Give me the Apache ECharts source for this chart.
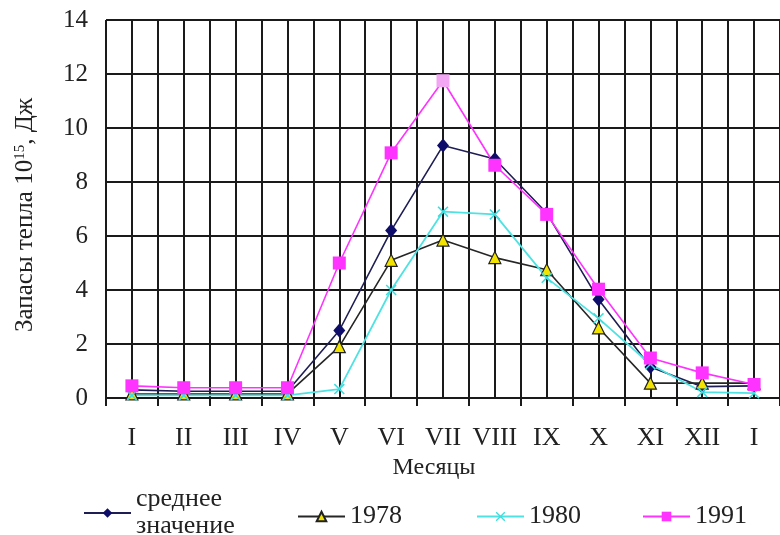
<!DOCTYPE html>
<html>
<head>
<meta charset="utf-8">
<script src="https://cdn.jsdelivr.net/npm/echarts@6/dist/echarts.min.js"></script>
<style>
  html, body { margin: 0; padding: 0; background: #fff; }
  #chart { width: 780px; height: 535px; }
</style>
</head>
<body>
<div id="chart"></div>
<script>
// месяцы (последний - январь следующего года)
var months = ['I', 'II', 'III', 'IV', 'V', 'VI', 'VII', 'VIII', 'IX', 'X', 'XI', 'XII', 'I'];
var yTicks = [0, 2, 4, 6, 8, 10, 12, 14];

var seriesNames = ['среднее\nзначение', '1978', '1980', '1991'];
var avgValues = [0.3, 0.25, 0.25, 0.25, 2.5, 6.2, 9.35, 8.85, 6.85, 3.65, 1.15, 0.42, 0.45];
var v1978 = [0.15, 0.15, 0.15, 0.15, 1.9, 5.1, 5.85, 5.2, 4.75, 2.6, 0.55, 0.55, 0.55];
var v1980 = [0.1, 0.1, 0.1, 0.1, 0.33, 4.0, 6.9, 6.8, 4.45, 2.95, 1.25, 0.22, 0.18];
var v1991 = [0.45, 0.38, 0.38, 0.38, 5.0, 9.08, 11.75, 8.62, 6.8, 4.03, 1.48, 0.93, 0.5];

var serif = "'Liberation Serif', 'Times New Roman', serif";
var gridColor = '#1a1a1a';

var myChart = echarts.init(document.getElementById('chart'));

var crossPath = 'path://M0,1 L1,0 L5,4 L9,0 L10,1 L6,5 L10,9 L9,10 L5,6 L1,10 L0,9 L4,5 Z';

// пик 1991 выделен светлым
var data1991 = v1991.map(function (v, i) {
    if (i === 6) return { value: v, itemStyle: { color: '#f3a6f3' } };
    return v;
});

function legendAt(name, left, top) {
    return {
        data: [name],
        left: left,
        top: top,
        orient: 'horizontal',
        itemWidth: 47,
        itemHeight: 12,
        itemGap: 0,
        padding: 0,
        textStyle: { fontFamily: serif, fontSize: 26, lineHeight: 27, color: '#222' }
    };
}

var option = {
    animation: false,
    backgroundColor: '#fff',
    grid: { left: 106, top: 20, width: 679, height: 378 },
    legend: [
        legendAt(seriesNames[0], 83, 486),
        legendAt(seriesNames[1], 297, 503),
        legendAt(seriesNames[2], 476, 503),
        legendAt(seriesNames[3], 642, 503)
    ],
    xAxis: [
        {
            type: 'category',
            data: months,
            boundaryGap: true,
            name: 'Месяцы',
            nameLocation: 'middle',
            nameGap: 52,
            nameTextStyle: { fontFamily: serif, fontSize: 24, color: '#222', padding: [0, 18, 0, 0] },
            axisLine: { lineStyle: { color: gridColor, width: 2 } },
            axisTick: { show: true, length: 8, lineStyle: { color: gridColor, width: 2 } },
            axisLabel: { fontFamily: serif, fontSize: 26, color: '#222', margin: 27, interval: 0 },
            splitLine: { show: false }
        },
        {
            // только вертикальная сетка через пол-месяца
            type: 'value',
            min: -0.5,
            max: 12.5,
            interval: 0.5,
            position: 'bottom',
            axisLine: { show: false },
            axisTick: { show: false },
            axisLabel: { show: false },
            splitLine: { show: true, lineStyle: { color: gridColor, width: 2 } }
        }
    ],
    yAxis: {
        type: 'value',
        min: yTicks[0],
        max: yTicks[yTicks.length - 1],
        interval: 2,
        name: 'Запасы тепла 10{sup|15}, Дж',
        nameLocation: 'middle',
        nameGap: 68,
        nameTextStyle: {
            fontFamily: serif, fontSize: 25, color: '#222',
            padding: [0, 12, 0, 0],
            rich: {
                sup: { fontFamily: serif, fontSize: 15, color: '#222', verticalAlign: 'top', padding: [0, 0, 8, 0] }
            }
        },
        axisLine: { show: true, lineStyle: { color: gridColor, width: 2 } },
        axisTick: { show: true, length: 10, lineStyle: { color: gridColor, width: 2 } },
        axisLabel: { fontFamily: serif, fontSize: 25, color: '#222', margin: 18 },
        splitLine: { show: true, lineStyle: { color: gridColor, width: 2 } }
    },
    series: [
        {
            name: seriesNames[0],
            type: 'line',
            data: avgValues,
            symbol: 'diamond',
            symbolSize: [12, 14],
            lineStyle: { color: '#1e1e55', width: 1.6 },
            itemStyle: { color: '#0e0e6a' }
        },
        {
            name: seriesNames[1],
            type: 'line',
            data: v1978,
            symbol: 'triangle',
            symbolSize: 12,
            lineStyle: { color: '#262626', width: 1.6 },
            itemStyle: { color: '#f2e300', borderColor: '#222', borderWidth: 1.2 }
        },
        {
            name: seriesNames[2],
            type: 'line',
            data: v1980,
            symbol: crossPath,
            symbolSize: 11,
            lineStyle: { color: '#4fe2e2', width: 1.8 },
            itemStyle: { color: '#3cdede' }
        },
        {
            name: seriesNames[3],
            type: 'line',
            data: data1991,
            symbol: 'rect',
            symbolSize: 13,
            lineStyle: { color: '#ff33ff', width: 1.6 },
            itemStyle: { color: '#ff33ff' }
        }
    ]
};

myChart.setOption(option);
</script>
</body>
</html>
